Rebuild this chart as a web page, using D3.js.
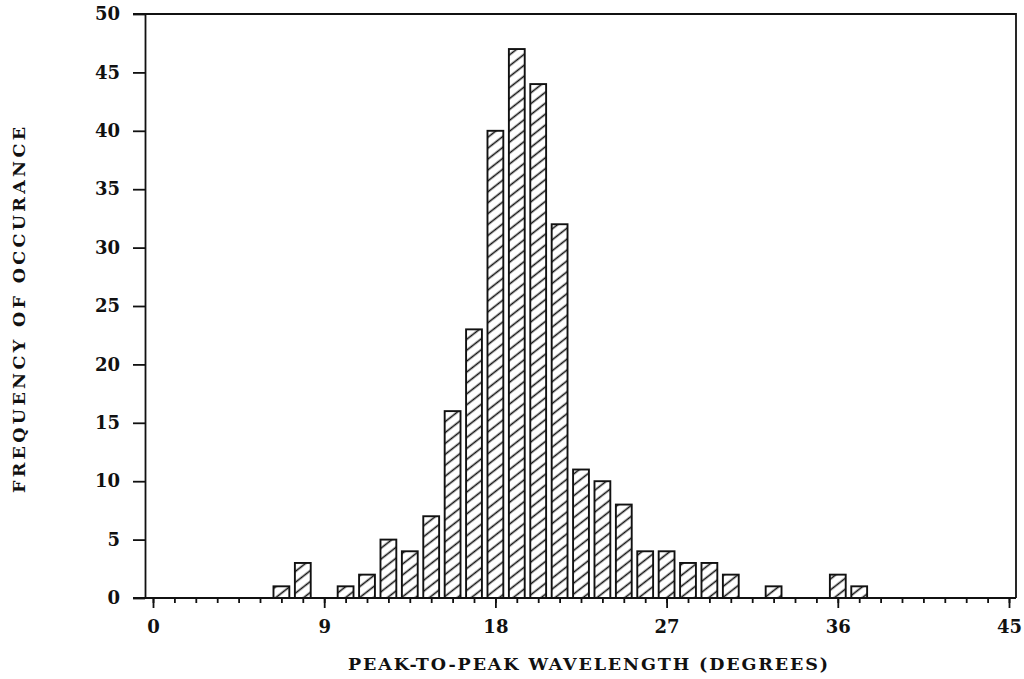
<!DOCTYPE html>
<html>
<head>
<meta charset="utf-8">
<script src="https://cdn.jsdelivr.net/npm/d3@7"></script>
<style>
  html, body { margin: 0; padding: 0; background: #fff; }
  svg { display: block; }
  text { font-family: "DejaVu Serif", "Liberation Serif", serif; font-weight: bold; fill: #111; }
</style>
</head>
<body>
<svg id="chart" width="1024" height="679"></svg>
<script>
// Histogram bins: bin centre (degrees) and number of occurrences
const binCenters = [
  0, 1.125, 2.25, 3.375, 4.5, 5.625, 6.75, 7.875, 9, 10.125,
  11.25, 12.375, 13.5, 14.625, 15.75, 16.875, 18, 19.125, 20.25, 21.375,
  22.5, 23.625, 24.75, 25.875, 27, 28.125, 29.25, 30.375, 31.5, 32.625,
  33.75, 34.875, 36, 37.125, 38.25, 39.375, 40.5, 41.625, 42.75, 43.875, 45
];
const counts = [
  0, 0, 0, 0, 0, 0, 1, 3, 0, 1,
  2, 5, 4, 7, 16, 23, 40, 47, 44, 32,
  11, 10, 8, 4, 4, 3, 3, 2, 0, 1,
  0, 0, 2, 1, 0, 0, 0, 0, 0, 0, 0
];
const xMajorTicks = [0, 9, 18, 27, 36, 45];
const yTicks = [0, 5, 10, 15, 20, 25, 30, 35, 40, 45, 50];
const xTitle = "PEAK-TO-PEAK WAVELENGTH (DEGREES)";
const yTitle = "FREQUENCY OF OCCURANCE";

const svg = d3.select("#chart");
const frame = { left: 145, right: 1016, top: 14, bottom: 598 };

const x = d3.scaleLinear().domain([0, 45]).range([153, 1009]);
const y = d3.scaleLinear().domain([0, 50]).range([frame.bottom, frame.top]);

const binStep = x(binCenters[1]) - x(binCenters[0]);
const barW = binStep * 0.74;

// Diagonal hatch fill
const defs = svg.append("defs");
const hatchGap = 8.6;
const hatch = defs.append("pattern")
  .attr("id", "hatch")
  .attr("patternUnits", "userSpaceOnUse")
  .attr("width", 4)
  .attr("height", hatchGap)
  .attr("patternTransform", "rotate(-38)");
hatch.append("rect").attr("width", 4).attr("height", hatchGap).attr("fill", "#fff");
hatch.append("line")
  .attr("x1", -1).attr("x2", 5)
  .attr("y1", hatchGap / 2).attr("y2", hatchGap / 2)
  .attr("stroke", "#111").attr("stroke-width", 1.6);

// Bars
const bins = binCenters.map((c, i) => ({ c, n: counts[i] })).filter(d => d.n > 0);
svg.append("g").selectAll("rect")
  .data(bins)
  .join("rect")
  .attr("x", d => x(d.c) - barW / 2)
  .attr("y", d => y(d.n))
  .attr("width", barW)
  .attr("height", d => y(0) - y(d.n))
  .attr("fill", "url(#hatch)")
  .attr("stroke", "#111")
  .attr("stroke-width", 1.9);

// Frame: top and right edges, baseline
svg.append("path")
  .attr("d", `M${frame.left - 12},${frame.top}H${frame.right}V${frame.bottom}`)
  .attr("fill", "none").attr("stroke", "#111").attr("stroke-width", 1.8);
svg.append("line")
  .attr("x1", frame.left - 12).attr("x2", frame.right)
  .attr("y1", frame.bottom).attr("y2", frame.bottom)
  .attr("stroke", "#111").attr("stroke-width", 1.8);

// Y axis
const yAxis = svg.append("g")
  .attr("transform", `translate(${frame.left},0)`)
  .call(d3.axisLeft(y).tickValues(yTicks).tickSize(12).tickSizeOuter(0).tickPadding(13));
yAxis.select(".domain").attr("stroke", "#111").attr("stroke-width", 1.8);
yAxis.selectAll(".tick line").attr("stroke", "#111").attr("stroke-width", 1.8);
yAxis.selectAll(".tick text")
  .attr("font-size", 18)
  .attr("font-family", "DejaVu Serif, serif")
  .attr("font-weight", "bold")
  .attr("fill", "#111");

// X axis: minor ticks at every bin, labelled major ticks
const xMinor = svg.append("g")
  .attr("transform", `translate(0,${frame.bottom})`)
  .call(d3.axisBottom(x).tickValues(binCenters).tickSize(5).tickSizeOuter(0).tickFormat(""));
xMinor.select(".domain").remove();
xMinor.selectAll(".tick line").attr("stroke", "#111").attr("stroke-width", 1.8);

const xAxis = svg.append("g")
  .attr("transform", `translate(0,${frame.bottom})`)
  .call(d3.axisBottom(x).tickValues(xMajorTicks).tickSize(10).tickSizeOuter(0).tickPadding(12).tickFormat(d3.format("d")));
xAxis.select(".domain").remove();
xAxis.selectAll(".tick line").attr("stroke", "#111").attr("stroke-width", 1.8);
xAxis.selectAll(".tick text")
  .attr("font-size", 18)
  .attr("font-family", "DejaVu Serif, serif")
  .attr("font-weight", "bold")
  .attr("fill", "#111");

// Axis titles
svg.append("text")
  .attr("x", 348).attr("y", 670)
  .attr("font-size", 17.5)
  .attr("textLength", 480)
  .attr("lengthAdjust", "spacing")
  .text(xTitle);

svg.append("text")
  .attr("transform", "translate(25,493) rotate(-90)")
  .attr("x", 0).attr("y", 0)
  .attr("font-size", 17.5)
  .attr("textLength", 366)
  .attr("lengthAdjust", "spacing")
  .text(yTitle);
</script>
</body>
</html>
